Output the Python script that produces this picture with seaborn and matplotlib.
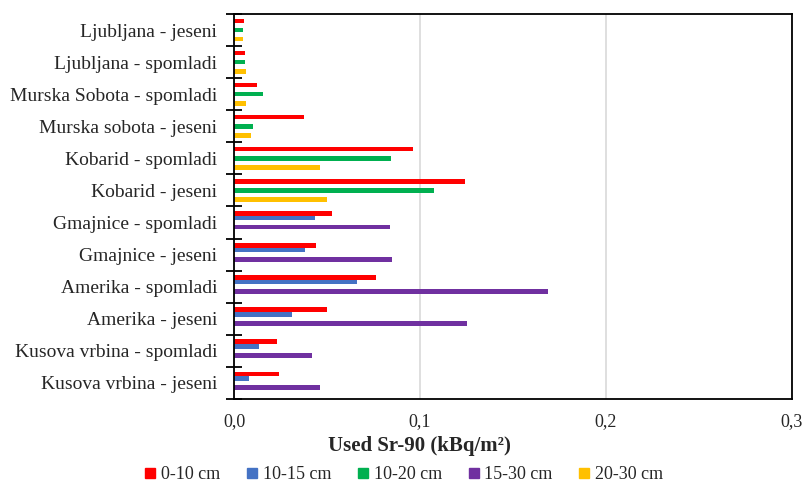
import numpy as np
import pandas as pd
import seaborn as sns
import matplotlib.pyplot as plt
from matplotlib.lines import Line2D

# Sr-90 by site / season and soil depth
sites = ["Ljubljana - jeseni", "Ljubljana - spomladi", "Murska Sobota - spomladi",
         "Murska sobota - jeseni", "Kobarid - spomladi", "Kobarid - jeseni",
         "Gmajnice - spomladi", "Gmajnice - jeseni", "Amerika - spomladi",
         "Amerika - jeseni", "Kusova vrbina - spomladi", "Kusova vrbina - jeseni"]
depths = ["0-10 cm", "10-15 cm", "10-20 cm", "15-30 cm", "20-30 cm"]
colors = ["#FF0000", "#4472C4", "#00B050", "#7030A0", "#FFC000"]

nan = np.nan
d_0_10 = [0.0054, 0.0059, 0.0122, 0.0378, 0.0961, 0.1244, 0.0529, 0.0443, 0.0763, 0.0502, 0.0231, 0.0242]
d_10_15 = [nan, nan, nan, nan, nan, nan, 0.0434, 0.0384, 0.0659, 0.0312, 0.0134, 0.0079]
d_10_20 = [0.0047, 0.0059, 0.0154, 0.0104, 0.0842, 0.1075, nan, nan, nan, nan, nan, nan]
d_15_30 = [nan, nan, nan, nan, nan, nan, 0.0837, 0.0849, 0.1690, 0.1251, 0.0419, 0.0462]
d_20_30 = [0.0047, 0.0066, 0.0063, 0.0090, 0.0462, 0.0502, nan, nan, nan, nan, nan, nan]

rows = []
for depth, vals in zip(depths, [d_0_10, d_10_15, d_10_20, d_15_30, d_20_30]):
    for site, v in zip(sites, vals):
        rows.append({"Site": site, "Depth": depth, "Sr90": v})
df = pd.DataFrame(rows)

sns.set_style("white")
plt.rcParams["font.family"] = ["Liberation Serif", "DejaVu Serif"]

fig = plt.figure(figsize=(8.05, 4.84), dpi=100)
ax = fig.add_axes([0.2907, 0.1756, 0.6932, 0.7955])

sns.barplot(data=df, y="Site", x="Sr90", hue="Depth", order=sites, hue_order=depths,
            palette=colors, orient="h", width=5 / 7, gap=0, saturation=1,
            linewidth=0, errorbar=None, legend=False, ax=ax)

ax.set_xlim(0, 0.3)
ax.set_ylim(len(sites) - 0.5, -0.5)
ax.set_xticks([0, 0.1, 0.2, 0.3])
ax.set_xticklabels(["0,0", "0,1", "0,2", "0,3"], fontsize=13)
ax.tick_params(axis="x", length=0, pad=10)
ax.xaxis.grid(True, color="#D9D9D9", linewidth=1.2)
ax.set_axisbelow(True)

ax.set_yticks(range(len(sites)))
ax.set_yticklabels(sites, fontsize=14)
ax.tick_params(axis="y", which="major", left=False, length=0, pad=12)
ax.set_yticks(np.arange(-0.5, len(sites), 1), minor=True)
ax.tick_params(axis="y", which="minor", left=True, direction="inout", length=11,
               width=1.3, color="black")

for s in ax.spines.values():
    s.set_visible(True)
    s.set_color("black")
    s.set_linewidth(1.3)

ax.set_ylabel("")
ax.set_xlabel("Used Sr-90 (kBq/m²)", fontsize=15, fontweight="bold")
ax.xaxis.set_label_coords(0.333, -0.095)

handles = [Line2D([], [], marker="s", linestyle="", color=c, markersize=7) for c in colors]
fig.legend(handles, depths, loc="center", bbox_to_anchor=(0.502, 0.019), ncol=5,
           frameon=False, fontsize=13, handlelength=0.6, handletextpad=0.3,
           columnspacing=1.45, borderpad=0)

fig.savefig("out.png", dpi=100)
